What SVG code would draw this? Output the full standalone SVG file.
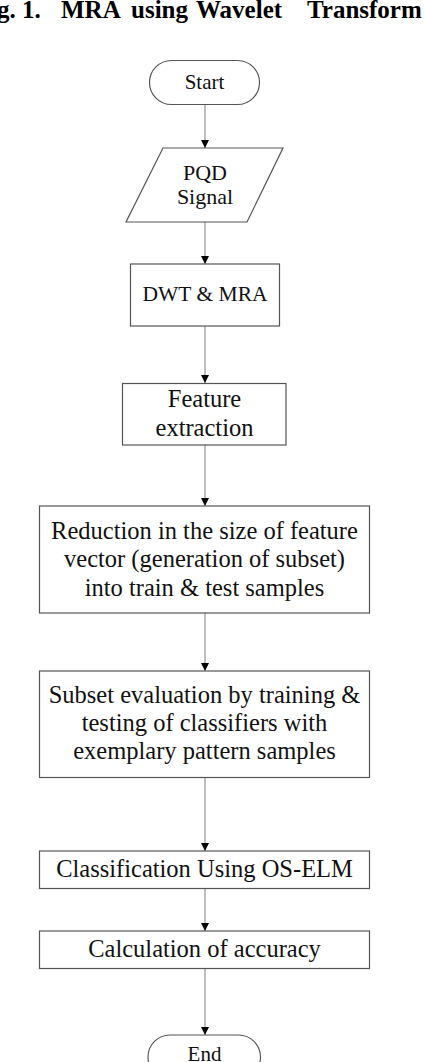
<svg xmlns="http://www.w3.org/2000/svg" width="424" height="1062" viewBox="0 0 424 1062">
<defs>
<marker id="arr" viewBox="0 0 10 10" refX="10" refY="5" markerWidth="8" markerHeight="9" markerUnits="userSpaceOnUse" orient="auto">
<path d="M0,0 L10,5 L0,10 Z" fill="#000"/>
</marker>
</defs>
<style>
.box{fill:#fff;stroke:#555;stroke-width:1.2}
.t{font-family:"Liberation Serif","Times New Roman",serif;fill:#111;text-anchor:middle}
.s{font-size:21px}
.m{font-size:24.5px}
.c{stroke:#a8a8a8;stroke-width:1.5;fill:none;marker-end:url(#arr)}
.title{font-family:"Liberation Serif","Times New Roman",serif;font-weight:bold;font-size:25px;fill:#000}
</style>
<rect width="424" height="1062" fill="#fff"/>
<text class="title" y="18"><tspan x="-3">g.</tspan><tspan x="22">1.</tspan><tspan x="61">MRA</tspan><tspan x="131">using</tspan><tspan x="196">Wavelet</tspan><tspan x="307">Transform</tspan></text>
<g id="connectors">
<line class="c" x1="205" y1="104" x2="205" y2="148"/>
<line class="c" x1="205" y1="222" x2="205" y2="264"/>
<line class="c" x1="205" y1="326" x2="205" y2="383"/>
<line class="c" x1="205" y1="445" x2="205" y2="506"/>
<line class="c" x1="205" y1="613" x2="205" y2="671"/>
<line class="c" x1="205" y1="777" x2="205" y2="851"/>
<line class="c" x1="205" y1="888" x2="205" y2="931"/>
<line class="c" x1="205" y1="968" x2="205" y2="1035"/>
</g>
<g id="start">
<rect class="box" x="149.5" y="60.5" width="110" height="44" rx="22" ry="22"/>
<text class="t s" x="204.5" y="89">Start</text>
</g>
<g id="pqd">
<polygon class="box" points="163,148 283,148 247,222 126,222"/>
<text class="t" style="font-size:22px" x="205" y="180">PQD</text>
<text class="t" style="font-size:22px" x="205" y="204">Signal</text>
</g>
<g id="dwt">
<rect class="box" x="130.5" y="264" width="149" height="62"/>
<text class="t" style="font-size:21.5px" x="205" y="301">DWT &amp; MRA</text>
</g>
<g id="feature">
<rect class="box" x="122.5" y="383.5" width="163.5" height="61.5"/>
<text class="t m" x="204.5" y="407">Feature</text>
<text class="t m" x="204.5" y="436">extraction</text>
</g>
<g id="reduction">
<rect class="box" x="39.5" y="506" width="330" height="107"/>
<text class="t m" x="204.5" y="539">Reduction in the size of feature</text>
<text class="t m" x="204.5" y="567">vector (generation of subset)</text>
<text class="t m" x="204.5" y="596">into train &amp; test samples</text>
</g>
<g id="subset">
<rect class="box" x="39.5" y="671" width="330" height="106.5"/>
<text class="t m" x="204.5" y="703">Subset evaluation by training &amp;</text>
<text class="t m" x="204.5" y="731">testing of classifiers with</text>
<text class="t m" x="204.5" y="759">exemplary pattern samples</text>
</g>
<g id="classification">
<rect class="box" x="39.5" y="851" width="330" height="37.5"/>
<text class="t m" x="204.5" y="877">Classification Using OS-ELM</text>
</g>
<g id="accuracy">
<rect class="box" x="39.5" y="931" width="330" height="37.5"/>
<text class="t m" x="204.5" y="957">Calculation of accuracy</text>
</g>
<g id="end">
<rect class="box" x="148" y="1035" width="112.5" height="44" rx="22" ry="22"/>
<text class="t s" x="204.5" y="1061">End</text>
</g>
</svg>
